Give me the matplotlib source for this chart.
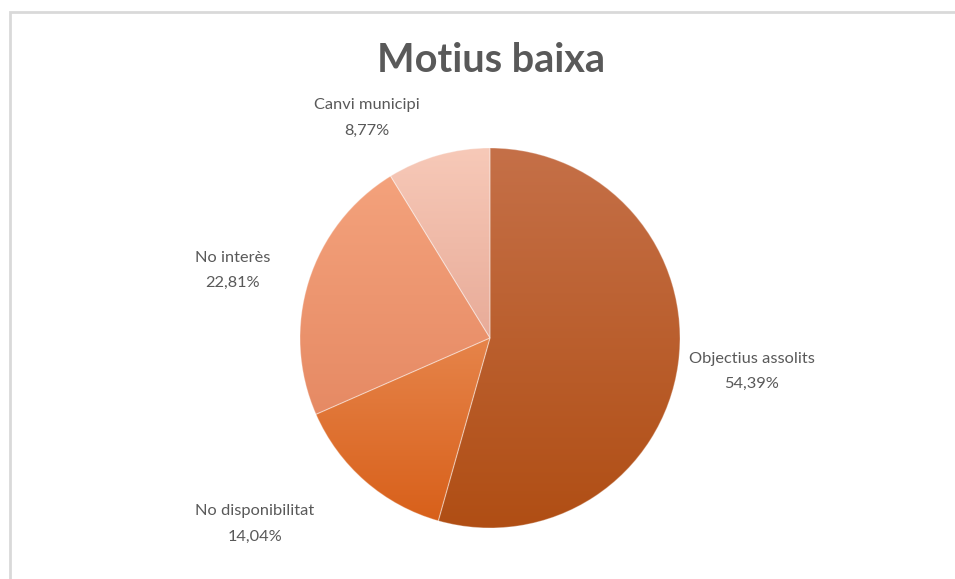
import numpy as np
import matplotlib.pyplot as plt
from matplotlib.colors import LinearSegmentedColormap
from matplotlib.patches import Rectangle

categories = ['Objectius assolits', 'No disponibilitat', 'No interès', 'Canvi municipi']
values = [54.39, 14.04, 22.81, 8.77]
pct_labels = ['54,39%', '14,04%', '22,81%', '8,77%']

# top / bottom colours of each slice's vertical gradient
grad_top = ['#C57048', '#E6844A', '#F4A27C', '#F7C9B8']
grad_bot = ['#B04E14', '#D8601A', '#E68A64', '#E8AB98']

# label anchor points in pixels (x, y from top)
label_pos = [(752, 371), (255, 524), (233, 270), (367, 118)]

W, H = 955, 579
fig = plt.figure(figsize=(W / 100, H / 100), dpi=100)
ax = fig.add_axes([0, 0, 1, 1])

# chart area border
ax.add_patch(Rectangle((10, -10), W, H - 12 + 10, fill=False,
                       edgecolor='#D9D9D9', linewidth=2))

cx, cy, r = 490, H - 338, 190
wedges, _ = ax.pie(values, center=(cx, cy), radius=r, startangle=90,
                   counterclock=False, frame=True,
                   wedgeprops=dict(edgecolor='none', facecolor='none'))

for w, c0, c1 in zip(wedges, grad_top, grad_bot):
    ext = w.get_path().get_extents()
    cmap = LinearSegmentedColormap.from_list('g', [c1, c0])
    grad = np.linspace(0, 1, 256).reshape(-1, 1)
    im = ax.imshow(grad, cmap=cmap, origin='lower', aspect='auto',
                   extent=[ext.x0, ext.x1, ext.y0, ext.y1], zorder=2)
    im.set_clip_path(w)
    w.set_edgecolor((1, 1, 1, 0.3))
    w.set_linewidth(0.8)
    w.set_zorder(3)

ax.set_xlim(0, W)
ax.set_ylim(0, H)
ax.set_aspect('equal')
ax.axis('off')

font = 'Lato'
ax.text(cx + 1, H - 60, 'Motius baixa', ha='center', va='center',
        fontsize=28.5, fontweight='bold', color='#595959', family=font)

for name, pct, (x, y) in zip(categories, pct_labels, label_pos):
    ax.text(x, H - y, name + '\n' + pct, ha='center', va='center',
            fontsize=11.8, color='#595959', family=font, linespacing=2.0)

fig.savefig('out.png', dpi=100)
